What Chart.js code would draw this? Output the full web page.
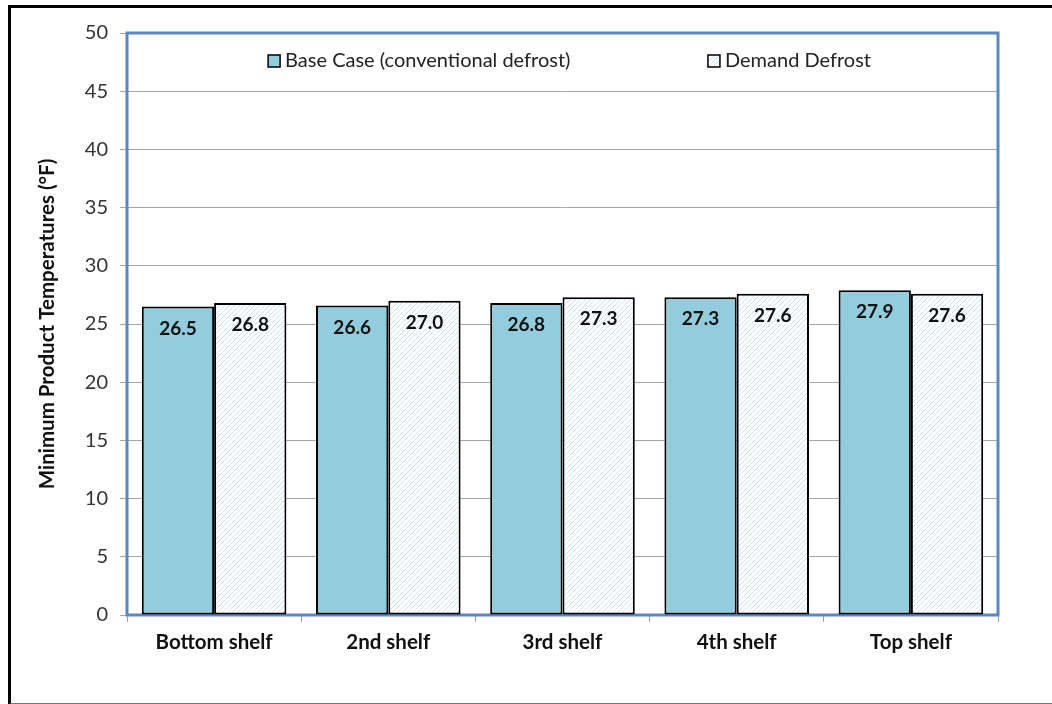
<!DOCTYPE html>
<html>
<head>
<meta charset="utf-8">
<script src="https://cdn.jsdelivr.net/npm/chart.js@4"></script>
<style>
  html, body { margin: 0; padding: 0; background: #fff; overflow: hidden; }
  #wrap { position: relative; width: 1052px; height: 704px; }
  #frame { position: absolute; left: 8px; top: 5px; width: 1100px; height: 700px; border: 3px solid #000; border-bottom: 2px solid #777; box-sizing: border-box; pointer-events: none; }
  canvas { position: absolute; left: 0; top: 0; }
</style>
</head>
<body>
<div id="wrap">
  <canvas id="c" width="1052" height="704"></canvas>
  <div id="frame"></div>
</div>
<script>
// Shelf positions and minimum product temperatures (°F)
const categories = ['Bottom shelf', '2nd shelf', '3rd shelf', '4th shelf', 'Top shelf'];
const baseCase = [26.5, 26.6, 26.8, 27.3, 27.9];
const demandDefrost = [26.8, 27.0, 27.3, 27.6, 27.6];
const seriesNames = ['Base Case (conventional defrost)', 'Demand Defrost'];
const yTicks = [0, 5, 10, 15, 20, 25, 30, 35, 40, 45, 50];

const FONT = 'Lato, "Liberation Sans", sans-serif';

// light blue diagonal hatch on white
function makeHatch() {
  const s = 5;
  const pc = document.createElement('canvas');
  pc.width = s; pc.height = s;
  const p = pc.getContext('2d');
  p.fillStyle = '#ffffff';
  p.fillRect(0, 0, s, s);
  p.strokeStyle = '#c4e4f0';
  p.lineWidth = 1;
  p.beginPath();
  p.moveTo(0, s); p.lineTo(s, 0);
  p.moveTo(-s / 2, s / 2); p.lineTo(s / 2, -s / 2);
  p.moveTo(s / 2, s * 1.5); p.lineTo(s * 1.5, s / 2);
  p.stroke();
  return p.createPattern(pc, 'repeat');
}
const hatch = makeHatch();

// frame around the plotting area
const plotFrame = {
  id: 'plotFrame',
  beforeDatasetsDraw(chart) {
    const { ctx, chartArea: a } = chart;
    ctx.save();
    ctx.strokeStyle = '#5b87c5';
    ctx.lineWidth = 3;
    ctx.strokeRect(a.left, a.top, a.right - a.left, a.bottom - a.top);
    ctx.restore();
  }
};

// value labels inside the top of each bar
const valueLabels = {
  id: 'valueLabels',
  afterDatasetsDraw(chart) {
    const { ctx } = chart;
    ctx.save();
    ctx.font = 'bold 19px ' + FONT;
    ctx.fillStyle = '#111';
    ctx.textAlign = 'center';
    ctx.textBaseline = 'middle';
    chart.data.datasets.forEach((ds, i) => {
      chart.getDatasetMeta(i).data.forEach((bar, j) => {
        ctx.fillText(ds.data[j].toFixed(1), bar.x, bar.y + 22);
      });
    });
    ctx.restore();
  }
};

// legend placed inside the plotting area
const innerLegend = {
  id: 'innerLegend',
  afterDraw(chart) {
    const { ctx, chartArea: a } = chart;
    const w = a.right - a.left;
    const starts = [0.162, 0.667];
    const yc = a.top + 28;
    ctx.save();
    ctx.font = '20px ' + FONT;
    ctx.textBaseline = 'middle';
    ctx.textAlign = 'left';
    chart.data.datasets.forEach((ds, i) => {
      const x = a.left + starts[i] * w;
      ctx.fillStyle = ds.backgroundColor;
      ctx.fillRect(x, yc - 6, 12, 12);
      ctx.strokeStyle = '#000';
      ctx.lineWidth = 1.5;
      ctx.strokeRect(x, yc - 6, 12, 12);
      ctx.fillStyle = '#222';
      ctx.fillText(ds.label, x + 17, yc);
    });
    ctx.restore();
  }
};

new Chart(document.getElementById('c'), {
  type: 'bar',
  data: {
    labels: categories,
    datasets: [
      { label: seriesNames[0], data: baseCase, backgroundColor: '#93cddd', borderColor: '#000', borderWidth: 2, borderSkipped: false },
      { label: seriesNames[1], data: demandDefrost, backgroundColor: hatch, borderColor: '#000', borderWidth: 2, borderSkipped: false }
    ]
  },
  options: {
    responsive: false,
    animation: false,
    layout: { padding: { left: 30, top: 33, right: 54, bottom: 29 } },
    datasets: { bar: { categoryPercentage: 0.83, barPercentage: 1.0 } },
    plugins: { legend: { display: false }, tooltip: { enabled: false } },
    scales: {
      x: {
        grid: { offset: true, drawOnChartArea: false, drawTicks: true, tickLength: 7, color: '#a0a0a0' },
        border: { display: false },
        ticks: { color: '#111', padding: 8, font: { family: FONT, size: 20.5, weight: 'bold' } },
        afterFit(scale) { scale.height = 60; }
      },
      y: {
        min: 0, max: 50,
        afterBuildTicks(scale) { scale.ticks = yTicks.map(v => ({ value: v })); },
        grid: { color: '#a6a6a6', lineWidth: 1, tickLength: 7 },
        border: { display: false },
        ticks: { color: '#333', padding: 12, font: { family: FONT, size: 20 } },
        title: { display: true, text: 'Minimum Product Temperatures (°F)', color: '#111', padding: { top: 5, bottom: 0 }, font: { family: FONT, size: 20.5, weight: 'bold' } },
        afterFit(scale) { scale.width = 97; }
      }
    }
  },
  plugins: [plotFrame, valueLabels, innerLegend]
});
</script>
</body>
</html>
